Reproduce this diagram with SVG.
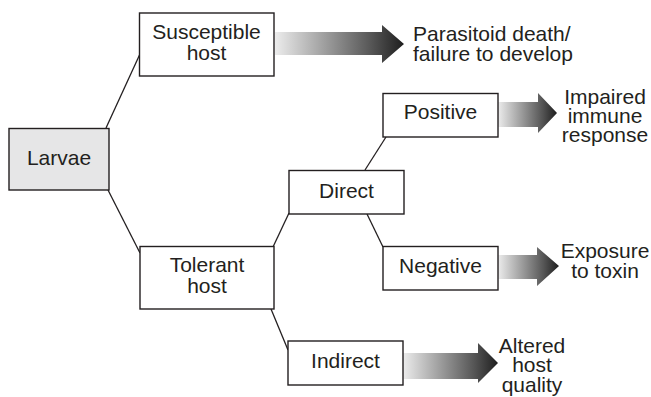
<svg xmlns="http://www.w3.org/2000/svg" width="651" height="397" viewBox="0 0 651 397">
  <style>
    .box { fill: #ffffff; stroke: #231f20; stroke-width: 1.4; }
    .root { fill: #e6e6e7; }
    .link { fill: none; stroke: #231f20; stroke-width: 1.3; }
    .arrow { fill: url(#fade); }
    text { font-family: "Liberation Sans", Arial, Helvetica, sans-serif; font-size: 21px; fill: #231f20; }
    .c { text-anchor: middle; }
  </style>
  <defs>
    <linearGradient id="fade" x1="0" y1="0" x2="1" y2="0">
      <stop offset="0" stop-color="#ececec"/>
      <stop offset="0.75" stop-color="#555555"/>
      <stop offset="1" stop-color="#1e1e1e"/>
    </linearGradient>
  </defs>

  <!-- connectors between nodes -->
  <g id="connectors">
    <line class="link" x1="106" y1="128" x2="139.5" y2="55"/>
    <line class="link" x1="108" y1="190" x2="140" y2="253"/>
    <line class="link" x1="273" y1="247" x2="289" y2="213"/>
    <line class="link" x1="271" y1="309" x2="288" y2="350"/>
    <line class="link" x1="365" y1="170" x2="386" y2="137"/>
    <line class="link" x1="367" y1="214" x2="383" y2="247"/>
  </g>

  <!-- outcome arrows -->
  <g id="arrows">
    <polygon class="arrow" points="275,32 382,32 382,25 404,44 382,63 382,55 275,55"/>
    <polygon class="arrow" points="498,102 538,102 538,93 557,113 538,133 538,127 498,127"/>
    <polygon class="arrow" points="498,255 537,255 537,247 559,266 537,286 537,279 498,279"/>
    <polygon class="arrow" points="403,353 478,353 478,343 498,363 478,383 478,379 403,379"/>
  </g>

  <g id="larvae">
    <rect class="box root" x="9" y="128.5" width="100" height="61.5"/>
    <text class="c" x="59" y="164.5">Larvae</text>
  </g>

  <g id="susceptible-host">
    <rect class="box" x="139.5" y="13" width="134.5" height="63"/>
    <text class="c" x="206.5" y="39.3">Susceptible</text>
    <text class="c" x="206.5" y="59.5">host</text>
  </g>

  <g id="tolerant-host">
    <rect class="box" x="140" y="246.5" width="134" height="62.5"/>
    <text class="c" x="207" y="271.5">Tolerant</text>
    <text class="c" x="207" y="292.5">host</text>
  </g>

  <g id="direct">
    <rect class="box" x="289" y="170.5" width="115" height="43.5"/>
    <text class="c" x="346.5" y="198.3">Direct</text>
  </g>

  <g id="positive">
    <rect class="box" x="383" y="93.5" width="115" height="43.5"/>
    <text class="c" x="440.5" y="119.3">Positive</text>
  </g>

  <g id="negative">
    <rect class="box" x="383" y="246.5" width="115" height="43.5"/>
    <text class="c" x="440.5" y="273.3">Negative</text>
  </g>

  <g id="indirect">
    <rect class="box" x="288" y="341" width="115" height="44"/>
    <text class="c" x="345.5" y="368.3">Indirect</text>
  </g>

  <!-- outcome labels -->
  <g id="outcome-death">
    <text x="413" y="41">Parasitoid death/</text>
    <text x="413" y="61">failure to develop</text>
  </g>
  <g id="outcome-immune">
    <text class="c" x="605" y="104">Impaired</text>
    <text class="c" x="605" y="123">immune</text>
    <text class="c" x="605" y="142">response</text>
  </g>
  <g id="outcome-toxin">
    <text class="c" x="605" y="258">Exposure</text>
    <text class="c" x="605" y="278">to toxin</text>
  </g>
  <g id="outcome-quality">
    <text class="c" x="532" y="352.5">Altered</text>
    <text class="c" x="532" y="372">host</text>
    <text class="c" x="532" y="391.5">quality</text>
  </g>
</svg>
